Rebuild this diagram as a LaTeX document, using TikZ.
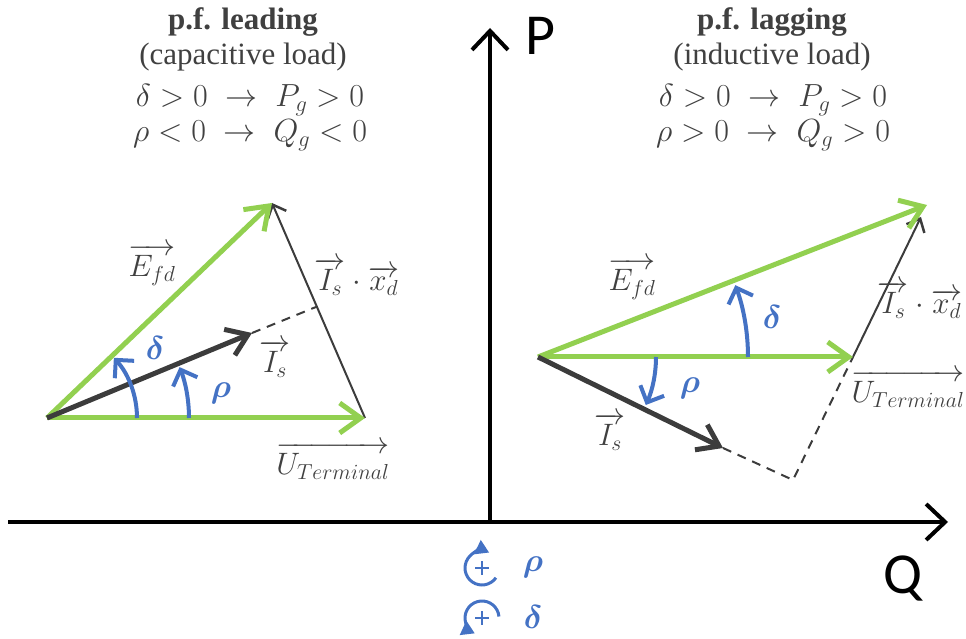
\RequirePackage{fix-cm}
\documentclass[tikz,border=0pt]{standalone}
\usepackage{amsmath,bm}
\usepackage{fontspec}
\setmainfont{Liberation Serif}
\newfontfamily\axisfont{Carlito}
\usetikzlibrary{arrows.meta}
\definecolor{vgreen}{RGB}{146,208,80}
\definecolor{vblue}{RGB}{68,114,196}
\definecolor{vdark}{RGB}{60,60,60}
\definecolor{vtext}{RGB}{64,64,64}
\begin{document}
\begin{tikzpicture}[x=1pt,y=1pt,
  greenvec/.style={draw=vgreen, line width=5pt, -{Straight Barb[length=21pt,width=30pt,line width=5pt]}},
  isvec/.style={draw=vdark, line width=5pt, -{Straight Barb[length=20pt,width=28pt,line width=5pt]}},
  thinvec/.style={draw=vdark, line width=2pt, -{Straight Barb[length=11pt,width=20pt,line width=2.5pt]}},
  dashline/.style={draw=vdark, line width=2pt, dash pattern=on 9pt off 7pt},
  anglearc/.style={draw=vblue, line width=4pt, -{Straight Barb[length=13pt,width=26pt,line width=4pt]}},
  axisline/.style={draw=black, line width=4pt, -{Straight Barb[length=19pt,width=36pt,line width=4pt]}},
  iconarc/.style={draw=vblue, line width=3pt, -{Triangle[length=13pt,width=15pt]}},
  iconplus/.style={draw=vblue, line width=2.5pt},
  head/.style={text=vtext, font=\fontsize{31}{36}\selectfont, inner sep=0pt},
  eqlab/.style={text=vtext, font=\fontsize{32}{36}\selectfont, inner sep=0pt},
  veclab/.style={text=vtext, font=\fontsize{31}{36}\selectfont, inner sep=0pt},
  anglab/.style={text=vblue, font=\fontsize{33}{36}\selectfont, inner sep=0pt},
  axlab/.style={text=black, font=\axisfont\fontsize{58}{62}\selectfont, inner sep=0pt}
]
\useasboundingbox (0,0) rectangle (966,639);

% axes
\coordinate (Hstart) at (8,117);
\coordinate (Hend) at (948,117);
\coordinate (Vstart) at (490,117);
\coordinate (Vend) at (490,611);
\draw[axisline] (Hstart) -- (Hend);
\draw[axisline] (Vstart) -- (Vend);
\node[axlab] (Plab) at (540,603) {P};
\node[axlab] (Qlab) at (903,60) {Q};

% headers
\node[head] (hL1) at (243,617) {\textbf{p.f. leading}};
\node[head] (hL2) at (243,582) {(capacitive load)};
\node[eqlab] (hL3) at (250,539) {$\delta > 0 \;\rightarrow\; P_g > 0$};
\node[eqlab] (hL4) at (250,504) {$\rho < 0 \;\rightarrow\; Q_g < 0$};
\node[head] (hR1) at (772,617) {\textbf{p.f. lagging}};
\node[head] (hR2) at (772,582) {(inductive load)};
\node[eqlab] (hR3) at (773,539) {$\delta > 0 \;\rightarrow\; P_g > 0$};
\node[eqlab] (hR4) at (773,504) {$\rho > 0 \;\rightarrow\; Q_g > 0$};

% left diagram
\coordinate (O1) at (47,221);
\coordinate (U1) at (365,221);
\coordinate (E1) at (272,436);
\coordinate (I1) at (252,306);
\coordinate (D1) at (316,332);
\draw[dashline] (I1) -- (D1);
\draw[thinvec] (U1) -- (E1);
\draw[greenvec] (O1) -- (U1);
\draw[greenvec] (O1) -- (E1);
\draw[isvec] (O1) -- (I1);
\draw[anglearc] ([shift={(90pt,0pt)}]O1) arc[start angle=0,end angle=42,radius=90pt];
\draw[anglearc] ([shift={(142pt,0pt)}]O1) arc[start angle=0,end angle=21,radius=142pt];
\node[veclab] (lE1) at (152,374) {$\overrightarrow{E_{fd}}$};
\node[veclab] (lI1) at (275,280) {$\overrightarrow{I_s}$};
\node[veclab] (lX1) at (357,362) {$\overrightarrow{I_s}\cdot\overrightarrow{x_d}$};
\node[veclab] (lU1) at (333,178) {$\overrightarrow{U_{Terminal}}$};
\node[anglab] (ld1) at (155,291) {$\bm{\delta}$};
\node[anglab] (lr1) at (221,246) {$\bm{\rho}$};

% right diagram
\coordinate (O2) at (538,282);
\coordinate (U2) at (853,282);
\coordinate (E2) at (927,434);
\coordinate (X2) at (921,422);
\coordinate (I2) at (723,191);
\coordinate (C2) at (793,159);
\draw[dashline] (I2) -- (C2) -- (U2);
\draw[thinvec] (U2) -- (X2);
\draw[greenvec] (O2) -- (U2);
\draw[greenvec] (O2) -- (E2);
\draw[isvec] (O2) -- (I2);
\draw[anglearc] ([shift={(210pt,0pt)}]O2) arc[start angle=0,end angle=20,radius=210pt];
\draw[anglearc] ([shift={(118pt,0pt)}]O2) arc[start angle=0,end angle=-24,radius=118pt];
\node[veclab] (lE2) at (632,360) {$\overrightarrow{E_{fd}}$};
\node[veclab] (lI2) at (610,207) {$\overrightarrow{I_s}$};
\node[veclab] (lX2) at (920,339) {$\overrightarrow{I_s}\cdot\overrightarrow{x_d}$};
\node[veclab] (lU2) at (908,250) {$\overrightarrow{U_{Terminal}}$};
\node[anglab] (ld2) at (772,322) {$\bm{\delta}$};
\node[anglab] (lr2) at (690,251) {$\bm{\rho}$};

% rotation icons
\coordinate (ic1) at (482,71);
\coordinate (ic2) at (482,21);
\draw[iconarc] ([shift={(-35:17pt)}]ic1) arc[start angle=-35,end angle=-295,radius=17pt];
\draw[iconplus] ([shift={(-7pt,0pt)}]ic1) -- ([shift={(7pt,0pt)}]ic1);
\draw[iconplus] ([shift={(0pt,-7pt)}]ic1) -- ([shift={(0pt,7pt)}]ic1);
\draw[iconarc] ([shift={(5:17pt)}]ic2) arc[start angle=5,end angle=245,radius=17pt];
\draw[iconplus] ([shift={(-7pt,0pt)}]ic2) -- ([shift={(7pt,0pt)}]ic2);
\draw[iconplus] ([shift={(0pt,-7pt)}]ic2) -- ([shift={(0pt,7pt)}]ic2);
\node[anglab] (lr3) at (533,72) {$\bm{\rho}$};
\node[anglab] (ld3) at (533,22) {$\bm{\delta}$};
\end{tikzpicture}
\end{document}
